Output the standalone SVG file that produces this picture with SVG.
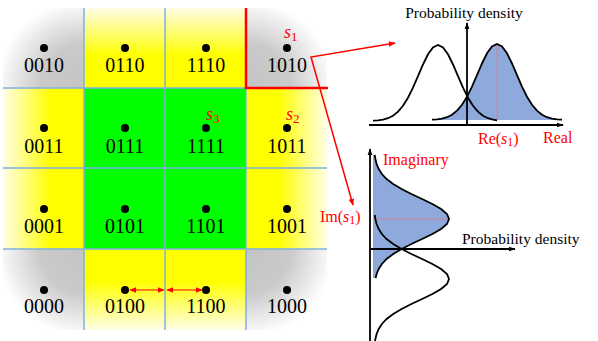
<svg xmlns="http://www.w3.org/2000/svg" width="598" height="341" viewBox="0 0 598 341">
<style>
text{font-family:"Liberation Serif",Tinos,"Times New Roman","DejaVu Serif",serif}
.lbl{font-size:20px;fill:#000;text-anchor:middle}
.rt{font-size:16px;fill:#ff0000}
.st{font-size:18px;fill:#ff0000}
.bt{font-size:15.5px;fill:#000}
.it{font-style:italic}
.grid{stroke:#7eb1e0;stroke-width:1.5;fill:none}
.dot{fill:#000}
.curve{fill:none;stroke:#000;stroke-width:1.8}
.fillb{fill:#8eaadc;stroke:none}
.axis{stroke:#000;stroke-width:1.8;fill:none}
.red{stroke:#ff0000;fill:none}
</style>
<defs>
<radialGradient id="gTL" gradientUnits="userSpaceOnUse" cx="84" cy="88" r="88"><stop offset="0" stop-color="#c4c4c4"/><stop offset="0.5" stop-color="#cacaca"/><stop offset="1" stop-color="#ffffff"/></radialGradient>
<radialGradient id="gTR" gradientUnits="userSpaceOnUse" cx="246" cy="88" r="88"><stop offset="0" stop-color="#c4c4c4"/><stop offset="0.5" stop-color="#cacaca"/><stop offset="1" stop-color="#ffffff"/></radialGradient>
<radialGradient id="gBL" gradientUnits="userSpaceOnUse" cx="84" cy="249" r="88"><stop offset="0" stop-color="#c4c4c4"/><stop offset="0.5" stop-color="#cacaca"/><stop offset="1" stop-color="#ffffff"/></radialGradient>
<radialGradient id="gBR" gradientUnits="userSpaceOnUse" cx="246" cy="249" r="88"><stop offset="0" stop-color="#c4c4c4"/><stop offset="0.5" stop-color="#cacaca"/><stop offset="1" stop-color="#ffffff"/></radialGradient>
<linearGradient id="yT" gradientUnits="userSpaceOnUse" x1="0" y1="88" x2="0" y2="8"><stop offset="0" stop-color="#ffff00"/><stop offset="0.4" stop-color="#ffff00"/><stop offset="1" stop-color="#fffde6"/></linearGradient>
<linearGradient id="yB" gradientUnits="userSpaceOnUse" x1="0" y1="249" x2="0" y2="330"><stop offset="0" stop-color="#ffff00"/><stop offset="0.4" stop-color="#ffff00"/><stop offset="1" stop-color="#fffde6"/></linearGradient>
<linearGradient id="yL" gradientUnits="userSpaceOnUse" x1="84" y1="0" x2="3" y2="0"><stop offset="0" stop-color="#ffff00"/><stop offset="0.4" stop-color="#ffff00"/><stop offset="1" stop-color="#fffde6"/></linearGradient>
<linearGradient id="yR" gradientUnits="userSpaceOnUse" x1="246" y1="0" x2="327" y2="0"><stop offset="0" stop-color="#ffff00"/><stop offset="0.4" stop-color="#ffff00"/><stop offset="1" stop-color="#fffde6"/></linearGradient>
<marker id="ar" viewBox="0 0 10 10" refX="9" refY="5" markerWidth="7" markerHeight="7" markerUnits="userSpaceOnUse" orient="auto-start-reverse"><path d="M0,1 L10,5 L0,9 Z" fill="#ff0000"/></marker>
<marker id="ab" viewBox="0 0 10 10" refX="9" refY="5" markerWidth="7" markerHeight="7" markerUnits="userSpaceOnUse" orient="auto"><path d="M0,1.5 L10,5 L0,8.5 Z" fill="#000"/></marker>
</defs>

<g id="node-0010"><rect x="3" y="8" width="81" height="80" fill="url(#gTL)"/><circle class="dot" cx="44" cy="48" r="4"/><text class="lbl" x="44" y="72">0010</text></g>
<g id="node-0110"><rect x="84" y="8" width="81" height="80" fill="url(#yT)"/><circle class="dot" cx="125" cy="48" r="4"/><text class="lbl" x="125" y="72">0110</text></g>
<g id="node-1110"><rect x="165" y="8" width="81" height="80" fill="url(#yT)"/><circle class="dot" cx="206" cy="48" r="4"/><text class="lbl" x="206" y="72">1110</text></g>
<g id="node-1010"><rect x="246" y="8" width="81" height="80" fill="url(#gTR)"/><circle class="dot" cx="287" cy="48" r="4"/><text class="lbl" x="287" y="72">1010</text><text class="st" x="284" y="38"><tspan class="it">s</tspan><tspan font-size="13" dy="3">1</tspan></text></g>

<g id="node-0011"><rect x="3" y="88" width="81" height="80" fill="url(#yL)"/><circle class="dot" cx="44" cy="128" r="4"/><text class="lbl" x="44" y="153">0011</text></g>
<g id="node-0111"><rect x="84" y="88" width="81" height="80" fill="#00ff00"/><circle class="dot" cx="125" cy="128" r="4"/><text class="lbl" x="125" y="153">0111</text></g>
<g id="node-1111"><rect x="165" y="88" width="81" height="80" fill="#00ff00"/><circle class="dot" cx="206" cy="128" r="4"/><text class="lbl" x="206" y="153">1111</text><text class="st" x="206" y="120"><tspan class="it">s</tspan><tspan font-size="13" dy="3">3</tspan></text></g>
<g id="node-1011"><rect x="246" y="88" width="81" height="80" fill="url(#yR)"/><circle class="dot" cx="287" cy="128" r="4"/><text class="lbl" x="287" y="153">1011</text><text class="st" x="286" y="120"><tspan class="it">s</tspan><tspan font-size="13" dy="3">2</tspan></text></g>

<g id="node-0001"><rect x="3" y="168" width="81" height="81" fill="url(#yL)"/><circle class="dot" cx="44" cy="209" r="4"/><text class="lbl" x="44" y="233">0001</text></g>
<g id="node-0101"><rect x="84" y="168" width="81" height="81" fill="#00ff00"/><circle class="dot" cx="125" cy="209" r="4"/><text class="lbl" x="125" y="233">0101</text></g>
<g id="node-1101"><rect x="165" y="168" width="81" height="81" fill="#00ff00"/><circle class="dot" cx="206" cy="209" r="4"/><text class="lbl" x="206" y="233">1101</text></g>
<g id="node-1001"><rect x="246" y="168" width="81" height="81" fill="url(#yR)"/><circle class="dot" cx="287" cy="209" r="4"/><text class="lbl" x="287" y="233">1001</text></g>

<g id="node-0000"><rect x="3" y="249" width="81" height="81" fill="url(#gBL)"/><circle class="dot" cx="44" cy="290" r="4"/><text class="lbl" x="44" y="313">0000</text></g>
<g id="node-0100"><rect x="84" y="249" width="81" height="81" fill="url(#yB)"/><circle class="dot" cx="125" cy="290" r="4"/><text class="lbl" x="125" y="313">0100</text></g>
<g id="node-1100"><rect x="165" y="249" width="81" height="81" fill="url(#yB)"/><circle class="dot" cx="206" cy="290" r="4"/><text class="lbl" x="206" y="313">1100</text></g>
<g id="node-1000"><rect x="246" y="249" width="81" height="81" fill="url(#gBR)"/><circle class="dot" cx="287" cy="290" r="4"/><text class="lbl" x="287" y="313">1000</text></g>

<g id="grid">
<path class="grid" d="M84,8 V330 M165,8 V330 M246,8 V330 M3,88 H327 M3,168 H327 M3,249 H327"/>
</g>

<g id="real-plot">
<path class="fillb" d="M432,119.7 L437,119.3 L442,118.6 L447,117.2 L452,114.7 L457,110.7 L462,104.8 L467,96.7 L472,86.6 L477,75.1 L482,63.5 L487,53.3 L492,46.4 L497,44 L502,46.4 L507,53.3 L512,63.5 L517,75.1 L522,86.6 L527,96.7 L532,104.8 L537,110.7 L542,114.7 L547,117.2 L552,118.6 L557,119.3 L562,119.7 L562,120 L432,120 Z"/>
<line x1="497" y1="44" x2="497" y2="120" stroke="#e07a8a" stroke-width="0.8"/>
<path class="curve" d="M373,120.7 L378,120.3 L383,119.6 L388,118.2 L393,115.7 L398,111.7 L403,105.8 L408,97.7 L413,87.6 L418,76.1 L423,64.5 L428,54.3 L433,47.4 L438,45 L443,47.4 L448,54.3 L453,64.5 L458,76.1 L463,87.6 L468,97.7 L473,105.8 L478,111.7 L483,115.7 L488,118.2 L493,119.6 L497,120.3"/>
<path class="curve" d="M432,119.7 L437,119.3 L442,118.6 L447,117.2 L452,114.7 L457,110.7 L462,104.8 L467,96.7 L472,86.6 L477,75.1 L482,63.5 L487,53.3 L492,46.4 L497,44 L502,46.4 L507,53.3 L512,63.5 L517,75.1 L522,86.6 L527,96.7 L532,104.8 L537,110.7 L542,114.7 L547,117.2 L552,118.6 L557,119.3 L562,119.7"/>
<line class="axis" x1="369" y1="125" x2="563" y2="125" marker-end="url(#ab)"/>
<line class="axis" x1="467" y1="125" x2="467" y2="23" marker-end="url(#ab)"/>
<text class="bt" x="464" y="18" text-anchor="middle">Probability density</text>
<text class="rt" x="478" y="144">Re(<tspan class="it">s</tspan><tspan font-size="12" dy="2">1</tspan><tspan dy="-2">)</tspan></text>
<text class="rt" x="543" y="143">Real</text>
</g>

<g id="imag-plot">
<path class="fillb" d="M373,155 L374.7,155 L375.4,159 L376.6,164 L378.7,169 L381.9,174 L386.6,179 L393.2,184 L401.6,189 L411.4,194 L422.1,199 L432.4,204 L441.1,209 L447,214 L449,219 L447,224 L441.1,229 L432.4,234 L422.1,239 L411.4,244 L401.6,249 L393.2,254 L386.6,259 L381.9,264 L378.7,269 L376.6,274 L375.6,278 L373,278 Z"/>
<line x1="373" y1="219" x2="449" y2="219" stroke="#e07a8a" stroke-width="0.8"/>
<path class="curve" d="M374.7,155 L375.4,159 L376.6,164 L378.7,169 L381.9,174 L386.6,179 L393.2,184 L401.6,189 L411.4,194 L422.1,199 L432.4,204 L441.1,209 L447,214 L449,219 L447,224 L441.1,229 L432.4,234 L422.1,239 L411.4,244 L401.6,249 L393.2,254 L386.6,259 L381.9,264 L378.7,269 L376.6,274 L375.6,278"/>
<path class="curve" d="M374.7,215 L375.4,219 L376.6,224 L378.7,229 L381.9,234 L386.6,239 L393.2,244 L401.6,249 L411.4,254 L422.1,259 L432.4,264 L441.1,269 L447,274 L449,279 L447,284 L441.1,289 L432.4,294 L422.1,299 L411.4,304 L401.6,309 L393.2,314 L386.6,319 L381.9,324 L378.7,329 L376.6,334 L375.4,339 L374.7,343"/>
<line class="axis" x1="370" y1="343" x2="370" y2="149" marker-end="url(#ab)"/>
<line class="axis" x1="370" y1="249" x2="515" y2="249" marker-end="url(#ab)"/>
<text class="bt" x="462" y="244">Probability density</text>
<text class="rt" x="383" y="165">Imaginary</text>
<text class="rt" x="320" y="222">Im(<tspan class="it">s</tspan><tspan font-size="12" dy="2">1</tspan><tspan dy="-2">)</tspan></text>
</g>

<g id="connectors">
<path class="red" stroke-width="2.5" d="M246,8 V88 H328"/>
<path class="red" stroke-width="1.5" d="M395,43 L311,57 L353,205" marker-start="url(#ar)" marker-end="url(#ar)"/>
<line class="red" stroke-width="1.2" x1="130" y1="290" x2="164" y2="290" marker-start="url(#ar)" marker-end="url(#ar)"/>
<line class="red" stroke-width="1.2" x1="167" y1="290" x2="202" y2="290" marker-start="url(#ar)" marker-end="url(#ar)"/>
</g>
</svg>
